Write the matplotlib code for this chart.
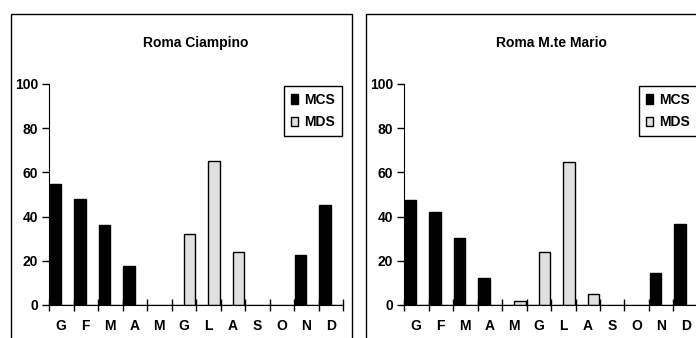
import matplotlib
matplotlib.use("Agg")
import matplotlib.pyplot as plt
from matplotlib.patches import Rectangle, Patch
import numpy as np

plt.rcParams['font.family'] = ['Liberation Sans', 'DejaVu Sans']
plt.rcParams['font.weight'] = 'bold'

months = ['G', 'F', 'M', 'A', 'M', 'G', 'L', 'A', 'S', 'O', 'N', 'D']

# Roma Ciampino
ciampino_mcs = [54.6, 48.0, 36.3, 17.6, 0, 0, 0, 0, 0, 0, 22.6, 45.1]
ciampino_mds = [0, 0, 0, 0, 0, 32.0, 65.3, 24.0, 0, 0, 0, 0]

# Roma M.te Mario
mario_mcs = [47.5, 42.0, 30.3, 12.4, 0, 0, 0, 0, 0, 0, 14.5, 36.8]
mario_mds = [0, 0, 0, 0, 1.6, 23.8, 64.7, 5.2, 0, 0, 0, 0]

W, H = 696, 338
fig = plt.figure(figsize=(W / 100, H / 100), dpi=100)

# panel frames
fig.add_artist(Rectangle((11 / W, -0.2), 341 / W, 1.2 - 14 / H,
                         transform=fig.transFigure, fill=False, edgecolor='black', lw=1.0))
fig.add_artist(Rectangle((366 / W, -0.2), 0.6, 1.2 - 14 / H,
                         transform=fig.transFigure, fill=False, edgecolor='black', lw=1.0))


def panel(left, title, mcs, mds):
    ax = fig.add_axes([left / W, (H - 305) / H, 294 / W, 221 / H])
    x = np.arange(len(months))
    w = 0.46
    ax.bar(x - w / 2, mcs, width=w, color='black', edgecolor='black', lw=1)
    ax.bar(x + w / 2, mds, width=w, color='#e0e0e0', edgecolor='black', lw=1)
    ax.set_xlim(-0.5, 11.5)
    ax.set_ylim(0, 100)
    ax.spines['top'].set_visible(False)
    ax.spines['right'].set_visible(False)
    ax.set_yticks([0, 20, 40, 60, 80, 100])
    ax.tick_params(axis='y', direction='out', length=5, width=1, labelsize=10, pad=3)
    ax.set_xticks(np.arange(-0.5, 12, 1))
    ax.set_xticklabels([])
    ax.set_xticks(x, minor=True)
    ax.set_xticklabels(months, minor=True)
    ax.tick_params(axis='x', which='major', direction='inout', length=8, width=1)
    ax.tick_params(axis='x', which='minor', length=0, labelsize=10, pad=10)
    for t in ax.get_yticklabels() + ax.get_xticklabels(minor=True):
        t.set_fontweight('bold')
    ax.text(0.5, 1.186, title, transform=ax.transAxes, ha='center', va='center',
            fontsize=10, fontweight='bold')
    handles = [Patch(facecolor='black', edgecolor='black'),
               Patch(facecolor='#e0e0e0', edgecolor='black')]
    leg = ax.legend(handles, ['MCS', 'MDS'], loc='upper right', bbox_to_anchor=(0.995, 0.99),
                    fancybox=False, framealpha=1, edgecolor='black', handlelength=0.55,
                    handleheight=0.7, handletextpad=0.4, borderpad=0.5, labelspacing=0.6,
                    borderaxespad=0, prop={'weight': 'bold', 'size': 10})
    leg.get_frame().set_linewidth(1)
    return ax


panel(49, 'Roma Ciampino', ciampino_mcs, ciampino_mds)
panel(404, 'Roma M.te Mario', mario_mcs, mario_mds)

fig.savefig('out.png', dpi=100)
